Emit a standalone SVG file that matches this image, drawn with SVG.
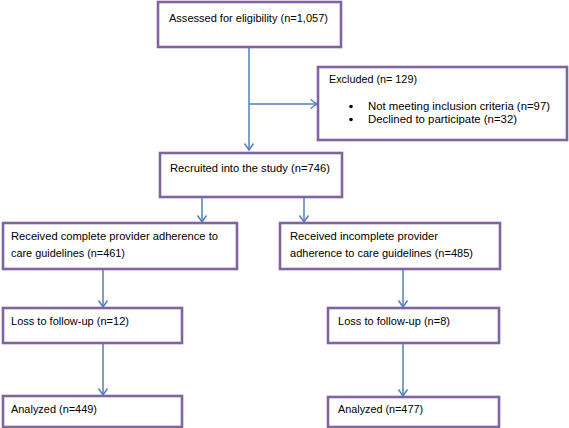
<svg xmlns="http://www.w3.org/2000/svg" width="569" height="428" viewBox="0 0 569 428">
<defs>
<style>
.box{fill:#fff;stroke:#8064A2;stroke-width:2.6}
.t{font-family:"Liberation Sans",Arial,sans-serif;font-size:11.5px;fill:#000}
.c{stroke:#4F81BD;stroke-width:1.5;fill:none}
</style>
<marker id="ah" markerUnits="userSpaceOnUse" viewBox="-8 -6 10 12" refX="0" refY="0" markerWidth="10" markerHeight="12" orient="auto">
<path d="M-6.5,-4.5 L0,0 L-6.5,4.5" fill="none" stroke="#4F81BD" stroke-width="1.5"/>
</marker>
</defs>
<rect width="569" height="428" fill="#fff"/>
<g id="connectors">
<line class="c" x1="249" y1="47" x2="249" y2="150" marker-end="url(#ah)"/>
<line class="c" x1="249" y1="104" x2="317" y2="104" marker-end="url(#ah)"/>
<line class="c" x1="202" y1="197" x2="202" y2="222" marker-end="url(#ah)"/>
<line class="c" x1="304" y1="197" x2="304" y2="222" marker-end="url(#ah)"/>
<line class="c" x1="103" y1="269" x2="103" y2="307" marker-end="url(#ah)"/>
<line class="c" x1="403" y1="269" x2="403" y2="307" marker-end="url(#ah)"/>
<line class="c" x1="103" y1="343" x2="103" y2="395" marker-end="url(#ah)"/>
<line class="c" x1="403" y1="343" x2="403" y2="396" marker-end="url(#ah)"/>
</g>
<g id="assessed">
<rect class="box" x="158" y="2" width="183" height="45"/>
<text class="t" x="169" y="22" textLength="159" lengthAdjust="spacingAndGlyphs">Assessed for eligibility (n=1,057)</text>
</g>
<g id="excluded">
<rect class="box" x="318" y="67" width="249" height="73"/>
<text class="t" x="329" y="83" textLength="88" lengthAdjust="spacingAndGlyphs">Excluded (n= 129)</text>
<circle cx="351" cy="106.5" r="1.8" fill="#000"/>
<text class="t" x="368" y="110" textLength="182" lengthAdjust="spacingAndGlyphs">Not meeting inclusion criteria (n=97)</text>
<circle cx="351" cy="119.5" r="1.8" fill="#000"/>
<text class="t" x="368" y="123" textLength="149" lengthAdjust="spacingAndGlyphs">Declined to participate (n=32)</text>
</g>
<g id="recruited">
<rect class="box" x="160" y="153" width="182" height="44"/>
<text class="t" x="170" y="172" textLength="160" lengthAdjust="spacingAndGlyphs">Recruited into the study (n=746)</text>
</g>
<g id="complete">
<rect class="box" x="3" y="223" width="234" height="46"/>
<text class="t" x="11" y="240" textLength="207" lengthAdjust="spacingAndGlyphs">Received complete provider adherence to</text>
<text class="t" x="11" y="257" textLength="114" lengthAdjust="spacingAndGlyphs">care guidelines (n=461)</text>
</g>
<g id="incomplete">
<rect class="box" x="280" y="223" width="220" height="46"/>
<text class="t" x="290" y="240" textLength="148" lengthAdjust="spacingAndGlyphs">Received incomplete provider</text>
<text class="t" x="290" y="257" textLength="183" lengthAdjust="spacingAndGlyphs">adherence to care guidelines (n=485)</text>
</g>
<g id="loss-left">
<rect class="box" x="3" y="308" width="179" height="35"/>
<text class="t" x="11" y="325" textLength="118" lengthAdjust="spacingAndGlyphs">Loss to follow-up (n=12)</text>
</g>
<g id="loss-right">
<rect class="box" x="328" y="308" width="171" height="35"/>
<text class="t" x="338" y="325" textLength="112" lengthAdjust="spacingAndGlyphs">Loss to follow-up (n=8)</text>
</g>
<g id="analyzed-left">
<rect class="box" x="3" y="396" width="179" height="31"/>
<text class="t" x="11" y="413" textLength="86" lengthAdjust="spacingAndGlyphs">Analyzed (n=449)</text>
</g>
<g id="analyzed-right">
<rect class="box" x="328" y="397" width="171" height="30"/>
<text class="t" x="338" y="413" textLength="85" lengthAdjust="spacingAndGlyphs">Analyzed (n=477)</text>
</g>
</svg>
